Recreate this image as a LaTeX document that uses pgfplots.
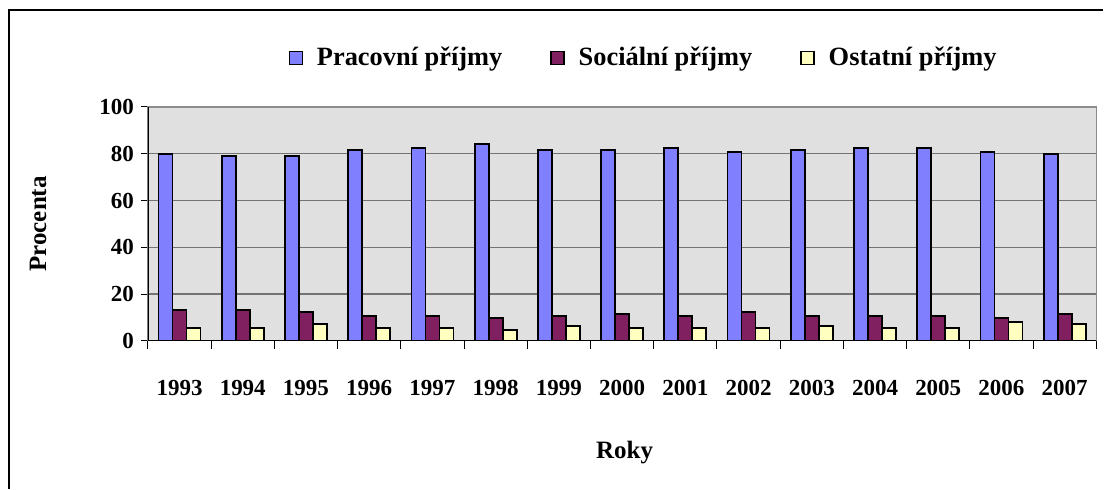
\documentclass[border=0pt]{standalone}
\usepackage{fontspec}
\setmainfont{Liberation Serif}
\usepackage{pgfplots}
\pgfplotsset{compat=1.18}
\definecolor{prac}{RGB}{128,128,255}
\definecolor{soc}{RGB}{128,32,96}
\definecolor{ost}{RGB}{255,255,192}
\definecolor{plotbg}{RGB}{224,224,224}

\begin{document}
\begin{tikzpicture}[x=1pt,y=1pt]
% page (1px = 0.5pt) and outer frame
\path[fill=white] (0,0) rectangle (552,-244.5);
\draw[line width=0.7pt] (4.5,-244.5) -- (4.5,-5) -- (552,-5);
\node[font=\bfseries\fontsize{12.5}{14}\selectfont] at (312.5,-226.5) {Roky};
\node[font=\bfseries\fontsize{12.5}{14}\selectfont, rotate=90] at (19,-112) {Procenta};
\begin{axis}[
    at={(74pt,-170.5pt)}, anchor=south west,
    width=474.5pt, height=117pt, scale only axis,
    ybar=0pt, bar width=7pt,
    xmin=0.5, xmax=15.5, ymin=0, ymax=100,
    xtick={1,...,15},
    xticklabels={1993,1994,1995,1996,1997,1998,1999,2000,2001,2002,2003,2004,2005,2006,2007},
    minor xtick={0.5,1.5,...,15.5},
    ytick={0,20,...,100},
    xtick pos=bottom, ytick pos=left,
    tick align=outside,
    major tick length=3.5pt, minor tick length=4pt,
    major x tick style={draw=none},
    tick style={black, line width=0.5pt},
    ymajorgrids, grid style={black!55, line width=0.6pt},
    axis background/.style={fill=plotbg},
    axis line style={draw=black!45, line width=0.6pt},
    /pgf/number format/assume math mode=true,
    tick label style={font=\bfseries\fontsize{11.5}{13}\selectfont},
    xticklabel style={anchor=center, yshift=-20pt},
    yticklabel style={anchor=east},
    legend style={at={(0.5237,1.209)}, anchor=center, draw=none, fill=none,
        legend columns=3, font=\bfseries\fontsize{13.2}{15}\selectfont,
        /tikz/every even column/.append style={column sep=22pt},
        /tikz/every odd column/.append style={column sep=5pt}},
    legend image code/.code={\draw[#1, line width=0.7pt] (0pt,-3.25pt) rectangle (6.5pt,3.25pt);},
    every axis plot/.append style={draw=black, line width=0.9pt},
]
\addplot[fill=prac] coordinates {(1,80.0) (2,79.1) (3,79.1) (4,81.6) (5,82.4) (6,84.3) (7,81.6) (8,81.6) (9,82.4) (10,80.7) (11,81.6) (12,82.4) (13,82.4) (14,80.7) (15,80.0)};
\addplot[fill=soc] coordinates {(1,13.1) (2,13.1) (3,12.4) (4,10.6) (5,10.6) (6,9.6) (7,10.6) (8,11.6) (9,10.6) (10,12.4) (11,10.6) (12,10.6) (13,10.6) (14,9.7) (15,11.6)};
\addplot[fill=ost] coordinates {(1,5.4) (2,5.4) (3,7.1) (4,5.4) (5,5.4) (6,4.7) (7,6.3) (8,5.4) (9,5.4) (10,5.4) (11,6.3) (12,5.4) (13,5.4) (14,8.1) (15,7.1)};
\legend{Pracovní příjmy, Sociální příjmy, Ostatní příjmy}
\draw[black, line width=0.6pt] (rel axis cs:0,1) -- (rel axis cs:0,0) -- (rel axis cs:1,0);
\end{axis}
\end{tikzpicture}
\end{document}
